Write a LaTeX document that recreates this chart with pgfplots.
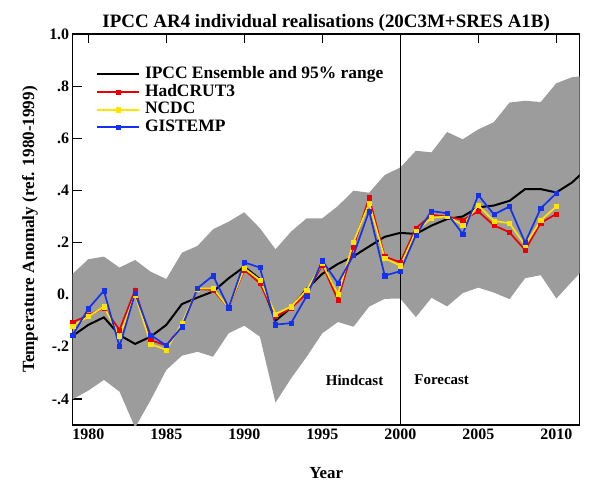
\documentclass[border=0pt]{standalone}
\usepackage{fontspec}
\setmainfont{Liberation Serif}
\usepackage{pgfplots}
\pgfplotsset{compat=1.18}
\definecolor{band}{RGB}{156,156,156}
\definecolor{hadred}{RGB}{235,0,0}
\definecolor{ncdcyel}{RGB}{255,228,0}
\definecolor{gisblue}{RGB}{20,50,235}
\begin{document}
\begin{tikzpicture}
\begin{axis}[
  scale only axis, width=507bp, height=391bp,
  xmin=1979, xmax=2011.5, ymin=-0.5, ymax=1.0,
  axis line style={line width=1.4bp},
  xtick={1980,1985,1990,1995,2000,2005,2010},
  xticklabels={1980,1985,1990,1995,2000,2005,2010},
  ytick={-0.4,-0.2,0,0.2,0.4,0.6,0.8,1.0},
  yticklabels={-.4,-.2,0.,.2,.4,.6,.8,1.0},
  xtick pos=right, xticklabel pos=left, ytick pos=left, yticklabel pos=left,
  tick align=inside, major tick length=9bp,
  tick style={line width=1.2bp, black},
  ticklabel style={font=\fontsize{16}{16}\selectfont\bfseries},
  title={IPCC AR4 individual realisations (20C3M+SRES A1B)},
  title style={at={(axis description cs:0.5,1.0128)}, anchor=center, font=\fontsize{19}{19}\selectfont\bfseries},
  xlabel={Year},
  xlabel style={at={(axis description cs:0.5,-0.1238)}, anchor=center, font=\fontsize{17}{17}\selectfont\bfseries},
  ylabel={Temperature Anomaly (ref. 1980-1999)},
  ylabel style={at={(axis description cs:-0.0842,0.5)}, anchor=center, font=\fontsize{17.2}{17.2}\selectfont\bfseries},
  legend style={at={(axis description cs:0.046,0.9195)}, anchor=north west, draw=none, fill=none, inner sep=0pt,
    font=\fontsize{17.5}{17.5}\selectfont\bfseries, nodes={inner sep=0.8bp, text height=12bp, text depth=4bp},
    row sep=0pt, column sep=4bp},
  legend cell align=left,
  legend image code/.code={\draw[mark repeat=2,mark phase=2,#1] plot coordinates {(0bp,0bp) (21bp,0bp) (42bp,0bp)};},
]
% 95% range band
\addplot[fill=band, draw=none, forget plot] coordinates {
(1979,0.080) (1980,0.136) (1981,0.146) (1982,0.104) (1983,0.133) (1984,0.088) (1985,0.060)
(1986,0.161) (1987,0.187) (1988,0.251) (1989,0.280) (1990,0.316) (1991,0.255) (1992,0.174)
(1993,0.242) (1994,0.293) (1995,0.293) (1996,0.340) (1997,0.399) (1998,0.391) (1999,0.459)
(2000,0.488) (2001,0.552) (2002,0.546) (2003,0.624) (2004,0.596) (2005,0.634) (2006,0.662)
(2007,0.737) (2008,0.744) (2009,0.739) (2010,0.811) (2011,0.834) (2012,0.840)
(2012,0.115) (2011,0.050) (2010,-0.015) (2009,0.075) (2008,0.063) (2007,-0.017) (2006,0.008)
(2005,0.027) (2004,0.006) (2003,-0.045) (2002,-0.012) (2001,-0.086) (2000,-0.015) (1999,-0.016)
(1998,-0.046) (1997,-0.123) (1996,-0.105) (1995,-0.148) (1994,-0.238) (1993,-0.321) (1992,-0.414)
(1991,-0.161) (1990,-0.119) (1989,-0.148) (1988,-0.238) (1987,-0.219) (1986,-0.234) (1985,-0.289)
(1984,-0.404) (1983,-0.510) (1982,-0.372) (1981,-0.327) (1980,-0.368) (1979,-0.401)
} -- cycle;
% forecast divider
\addplot[black, line width=0.9bp, forget plot] coordinates {(2000,-0.5) (2000,1.0)};
% ensemble mean
\addplot[black, line width=2bp, no marks] coordinates {
(1979,-0.158) (1980,-0.116) (1981,-0.087) (1982,-0.155) (1983,-0.189) (1984,-0.161) (1985,-0.116)
(1986,-0.036) (1987,-0.011) (1988,0.012) (1989,0.063) (1990,0.107) (1991,0.060) (1992,-0.100)
(1993,-0.050) (1994,0.022) (1995,0.080) (1996,0.118) (1997,0.147) (1998,0.185) (1999,0.222)
(2000,0.237) (2001,0.233) (2002,0.265) (2003,0.290) (2004,0.300) (2005,0.335) (2006,0.342)
(2007,0.360) (2008,0.405) (2009,0.405) (2010,0.392) (2011,0.430) (2012,0.485)
};
\addlegendentry{IPCC Ensemble and 95\% range}
% HadCRUT3
\addplot[hadred, line width=1.7bp, mark=square*, mark size=2.1bp, mark options={line width=0.4bp}] coordinates {
(1979,-0.105) (1980,-0.080) (1981,-0.050) (1982,-0.135) (1983,0.018) (1984,-0.174) (1985,-0.195)
(1986,-0.120) (1987,0.022) (1988,0.018) (1989,-0.050) (1990,0.095) (1991,0.044) (1992,-0.084)
(1993,-0.052) (1994,0.005) (1995,0.114) (1996,-0.020) (1997,0.184) (1998,0.372) (1999,0.146)
(2000,0.124) (2001,0.255) (2002,0.306) (2003,0.300) (2004,0.287) (2005,0.319) (2006,0.266)
(2007,0.239) (2008,0.171) (2009,0.275) (2010,0.310)
};
\addlegendentry{HadCRUT3}
% NCDC
\addplot[ncdcyel, line width=1.7bp, mark=square*, mark size=2.1bp, mark options={line width=0.4bp}] coordinates {
(1979,-0.120) (1980,-0.084) (1981,-0.046) (1982,-0.160) (1983,0.000) (1984,-0.189) (1985,-0.212)
(1986,-0.110) (1987,0.023) (1988,0.024) (1989,-0.050) (1990,0.101) (1991,0.056) (1992,-0.074)
(1993,-0.046) (1994,0.018) (1995,0.120) (1996,0.001) (1997,0.201) (1998,0.350) (1999,0.140)
(2000,0.111) (2001,0.242) (2002,0.295) (2003,0.300) (2004,0.267) (2005,0.342) (2006,0.283)
(2007,0.274) (2008,0.190) (2009,0.285) (2010,0.338)
};
\addlegendentry{NCDC}
% GISTEMP
\addplot[gisblue, line width=1.7bp, mark=square*, mark size=2.1bp, mark options={line width=0.4bp}] coordinates {
(1979,-0.155) (1980,-0.054) (1981,0.015) (1982,-0.199) (1983,0.005) (1984,-0.155) (1985,-0.195)
(1986,-0.123) (1987,0.025) (1988,0.073) (1989,-0.050) (1990,0.124) (1991,0.104) (1992,-0.115)
(1993,-0.109) (1994,-0.005) (1995,0.130) (1996,0.044) (1997,0.152) (1998,0.321) (1999,0.073)
(2000,0.090) (2001,0.229) (2002,0.321) (2003,0.312) (2004,0.233) (2005,0.382) (2006,0.308)
(2007,0.338) (2008,0.200) (2009,0.331) (2010,0.389)
};
\addlegendentry{GISTEMP}
\node[font=\fontsize{15}{15}\selectfont\bfseries] at (axis cs:1997.07,-0.327) {Hindcast};
\node[font=\fontsize{15}{15}\selectfont\bfseries] at (axis cs:2002.65,-0.327) {Forecast};
\end{axis}
\path (current axis.south west) ++(-72.7bp,-61bp) rectangle ([shift={(21.3bp,34bp)}]current axis.north east);
\end{tikzpicture}
\end{document}
